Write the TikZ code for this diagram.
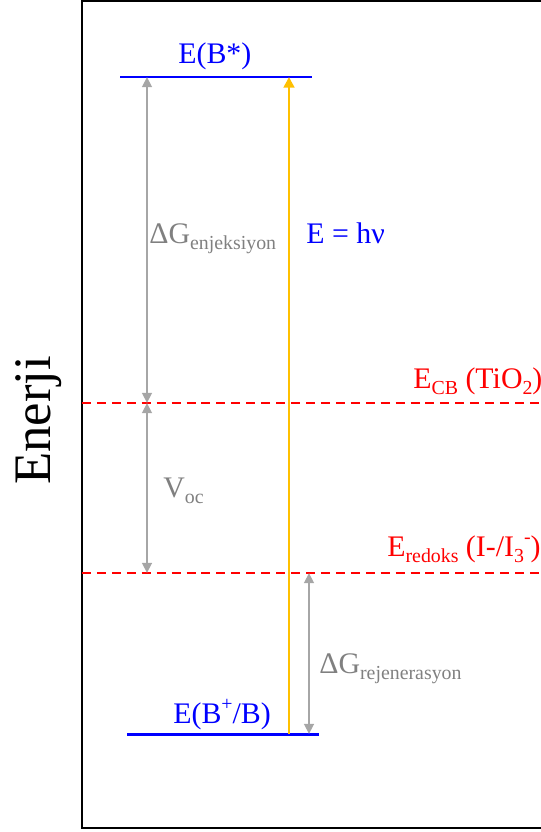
\documentclass[tikz,border=0pt]{standalone}
\usepackage{fontspec}
\setmainfont{Liberation Serif}
\usetikzlibrary{arrows.meta}
\definecolor{lvlblue}{RGB}{0,0,255}
\definecolor{lvlred}{RGB}{255,0,0}
\definecolor{arrgray}{RGB}{166,166,166}
\definecolor{txtgray}{RGB}{128,128,128}
\definecolor{photon}{RGB}{255,192,0}
\newcommand{\sbs}[1]{\raisebox{-0.22em}{\fontsize{11.3}{12}\selectfont #1}}
\newcommand{\sps}[1]{\raisebox{0.42em}{\fontsize{11.3}{12}\selectfont #1}}

\begin{document}
\begin{tikzpicture}[x=0.02cm, y=-0.02cm]
  \tikzset{lvl/.style={draw=lvlblue, line width=1.7pt},
           redox/.style={draw=lvlred, line width=1.4pt, dash pattern=on 5.1pt off 3.4pt},
           gap/.style={draw=arrgray, line width=1.7pt, {Triangle[width=5.5pt,length=5.8pt]}-{Triangle[width=5.5pt,length=5.8pt]}},
           lbl/.style={inner sep=0pt, anchor=base west, font=\fontsize{17}{20}\selectfont}}
  \useasboundingbox (0,0) rectangle (541,832);
  % frame, right side runs off the page
  \draw[line width=1.2pt] (541,1) -- (82,1) -- (82,828) -- (541,828);
  \node[lbl, rotate=90, font=\fontsize{30}{34}\selectfont] (enerji) at (51,485) {Enerji};

  % levels
  \coordinate (exc-l) at (120,77);  \coordinate (exc-r) at (312,77);
  \coordinate (gnd-l) at (127,734); \coordinate (gnd-r) at (319,734);
  \coordinate (cb-l)  at (82,403);  \coordinate (cb-r)  at (541,403);
  \coordinate (red-l) at (82,573);  \coordinate (red-r) at (541,573);
  \draw[lvl] (exc-l) -- (exc-r);
  \draw[lvl] (gnd-l) -- (gnd-r);
  \draw[redox] (cb-l) -- (cb-r);
  \draw[redox] (red-l) -- (red-r);

  % arrow ends
  \coordinate (inj-t) at (147,77);  \coordinate (inj-b) at (147,403);
  \coordinate (voc-b) at (147,573);
  \coordinate (reg-t) at (309,573); \coordinate (reg-b) at (309,734);
  \coordinate (hv-t)  at (289,77);  \coordinate (hv-b)  at (289,734);
  \draw[gap] (inj-t) -- (inj-b);
  \draw[gap] (inj-b) -- (voc-b);
  \draw[gap] (reg-t) -- (reg-b);
  \draw[draw=photon, line width=1.7pt, -{Triangle[width=6pt,length=6pt]}] (hv-b) -- (hv-t);

  % labels
  \node[lbl, text=lvlblue] (bstar) at (178,63) {E(B*)};
  \node[lbl, text=lvlblue] (bplus) at (173,723) {E(B\sps{+}/B)};
  \node[lbl, text=lvlblue] (hnu)   at (306,243) {E = hν};
  \node[lbl, text=txtgray] (ginj)  at (149,243) {ΔG\sbs{enjeksiyon}};
  \node[lbl, text=txtgray] (voc)   at (163,497) {V\sbs{oc}};
  \node[lbl, text=txtgray] (greg)  at (319,673) {ΔG\sbs{rejenerasyon}};
  \node[lbl, text=lvlred]  (ecb)   at (413,388) {E\sbs{CB} (TiO\sbs{2})};
  \node[lbl, text=lvlred]  (ered)  at (387,556) {E\sbs{redoks} (I-/I\sbs{3}\sps{-})};
\end{tikzpicture}
\end{document}
